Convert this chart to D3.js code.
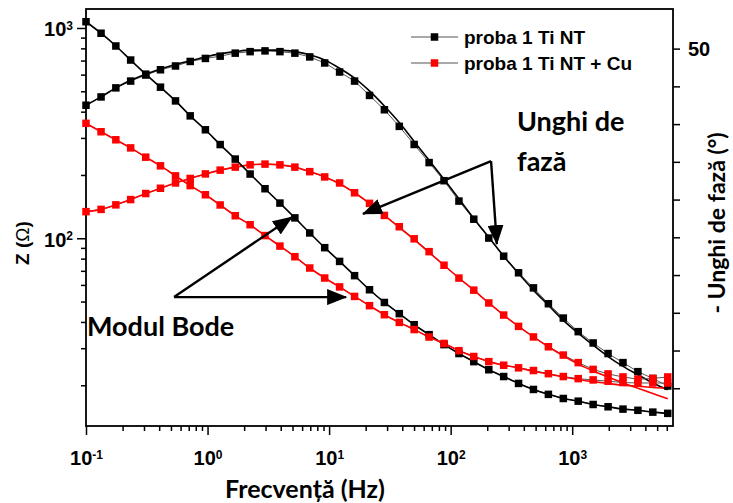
<!DOCTYPE html>
<html>
<head>
<meta charset="utf-8">
<script src="https://cdn.jsdelivr.net/npm/d3@7"></script>
<style>
body { margin: 0; background: #fff; }
svg { display: block; }
</style>
</head>
<body>
<svg id="svg" width="733" height="503"></svg>
<script>
// frequency points (Hz)
const freq = [0.1, 0.133, 0.176, 0.233, 0.31, 0.41, 0.545, 0.72, 0.96, 1.27, 1.69, 2.24, 2.97, 3.94, 5.23, 6.93, 9.2, 12.2, 16.2, 21.5, 28.5, 37.8, 50.1, 66.5, 88.2, 117, 155, 206, 273, 362, 480, 637, 845, 1121, 1487, 1973, 2617, 3472, 4606, 6110];

// |Z| (ohm)
const zTi = [1071, 944, 821, 704, 603, 523, 450, 382, 328, 279, 238, 202, 172, 147, 125, 106, 90.2, 77.6, 66.4, 56.9, 49.5, 43.8, 38.8, 34.8, 31.2, 28.3, 25.9, 23.7, 22.0, 20.4, 19.1, 18.1, 17.3, 16.8, 16.2, 15.8, 15.4, 15.2, 14.9, 14.7];
const zTiCu = [352, 321, 294, 269, 243, 221, 198, 178, 161, 144, 128, 116, 103, 91.8, 81.7, 72.2, 64.7, 58.7, 52.9, 47.8, 43.3, 39.8, 36.8, 33.9, 31.6, 29.2, 27.4, 25.9, 24.9, 24.2, 23.5, 22.7, 22.0, 21.5, 21.2, 20.9, 20.6, 20.5, 20.5, 20.5];

// - phase angle (deg)
const phTi = [42.5, 43.6, 44.8, 45.7, 46.5, 47.2, 47.7, 48.3, 48.7, 49.0, 49.4, 49.6, 49.7, 49.6, 49.4, 48.9, 48.1, 46.9, 45.7, 43.8, 41.9, 39.7, 37.3, 34.9, 32.5, 29.8, 27.4, 24.9, 22.5, 20.3, 18.3, 16.2, 14.3, 12.5, 11.0, 9.6, 8.4, 7.2, 6.3, 5.3];
const phTiCu = [28.4, 28.7, 29.3, 30.0, 30.8, 31.5, 32.2, 32.8, 33.4, 33.9, 34.3, 34.6, 34.7, 34.6, 34.3, 33.7, 33.0, 32.2, 30.9, 29.5, 27.9, 26.4, 24.8, 23.1, 21.3, 19.6, 18.0, 16.3, 14.7, 13.2, 11.8, 10.5, 9.4, 8.4, 7.5, 6.9, 6.5, 6.2, 6.3, 6.5];

// fitted curves
const fitZTi = [1071, 944, 821, 704, 603, 523, 450, 382, 328, 279, 238, 202, 172, 147, 125, 106, 90.2, 77.6, 66.4, 56.9, 49.5, 43.8, 38.8, 34.8, 31.2, 28.3, 25.9, 23.7, 22.0, 20.4, 19.1, 18.1, 17.3, 16.8, 16.2, 15.8, 15.4, 15.2, 14.9, 14.7];
const fitZTiCu = [352, 321, 294, 269, 243, 221, 198, 178, 161, 144, 128, 116, 103, 91.8, 81.7, 72.2, 64.7, 58.7, 52.9, 47.8, 43.3, 39.8, 36.8, 33.9, 31.6, 29.2, 27.4, 25.9, 24.9, 24.2, 23.3, 22.6, 21.9, 21.3, 20.8, 20.4, 20.0, 19.8, 19.5, 19.4];
const fitPhTi = [42.5, 43.6, 44.8, 45.8, 46.6, 47.3, 47.9, 48.4, 48.9, 49.3, 49.6, 49.8, 49.8, 49.8, 49.6, 49.2, 48.5, 47.4, 46.1, 44.4, 42.4, 40.2, 37.7, 35.2, 32.7, 30.1, 27.5, 25.0, 22.5, 20.2, 18.0, 16.0, 14.0, 12.3, 10.7, 9.2, 7.9, 6.8, 5.7, 4.8];
const fitPhTiCu = [28.4, 28.7, 29.3, 30.0, 30.8, 31.5, 32.2, 32.8, 33.4, 33.9, 34.3, 34.6, 34.7, 34.6, 34.3, 33.7, 33.0, 32.1, 30.9, 29.5, 27.9, 26.3, 24.7, 23.0, 21.3, 19.6, 18.0, 16.3, 14.7, 13.2, 11.8, 10.5, 9.3, 8.2, 7.3, 6.5, 5.7, 5.0, 4.3, 3.6];

const xTicks = [0.1, 1, 10, 100, 1000];
const xTickLabels = ["-1", "0", "1", "2", "3"];
const zTicks = [100, 1000];
const zTickLabels = ["2", "3"];
const phTicks = [5, 10, 15, 20, 25, 30, 35, 40, 45, 50];
const phTickLabels = { 50: "50" };
const legendNames = ["proba 1 Ti NT", "proba 1 Ti NT + Cu"];

const svg = d3.select("#svg");
const L = 86, R = 673, T = 9, B = 426;

const x = d3.scaleLog().domain([0.1, 6750]).range([L, R]);
const yZ = d3.scaleLog().domain([12.8, 1231]).range([B, T]);
const yP = d3.scaleLinear().domain([0, 55.25]).range([B, T]);

const NUM_FONT = "'Liberation Sans', Arial, sans-serif";
const TITLE_FONT = "Lato, 'Open Sans', sans-serif";

function minorTicks(lo, hi) {
	const out = [];
	for (let p = lo; p <= hi; p *= 10) {
		for (let k = 2; k <= 9; k++) out.push(p * k);
	}
	return out;
}

function supLabel(sel, labels) {
	sel.selectAll(".tick text").each(function (d, i) {
		const t = d3.select(this);
		t.text("");
		t.append("tspan").text("10");
		t.append("tspan").attr("dy", "-0.55em").attr("font-size", 12).text(labels[i]);
	});
}

// bottom axis
const gx = svg.append("g").attr("transform", `translate(0,${B})`);
gx.append("g")
	.call(d3.axisBottom(x).tickValues(minorTicks(0.1, 1000).filter((v) => v < 6750)).tickSize(5).tickFormat(() => ""))
	.call((g) => g.select(".domain").remove());
const gxMajor = gx.append("g")
	.call(d3.axisBottom(x).tickValues(xTicks).tickSize(9).tickPadding(16))
	.call((g) => g.select(".domain").remove());
gxMajor.selectAll(".tick text").attr("font-family", NUM_FONT).attr("font-weight", "bold").attr("font-size", 20).attr("fill", "#000");
supLabel(gxMajor, xTickLabels);

// left axis
const gy = svg.append("g").attr("transform", `translate(${L},0)`);
gy.append("g")
	.call(d3.axisLeft(yZ).tickValues(minorTicks(10, 100).filter((v) => v > 12.8 && v < 1231)).tickSize(5).tickFormat(() => ""))
	.call((g) => g.select(".domain").remove());
const gyMajor = gy.append("g")
	.call(d3.axisLeft(yZ).tickValues(zTicks).tickSize(9).tickPadding(4))
	.call((g) => g.select(".domain").remove());
gyMajor.selectAll(".tick text").attr("font-family", NUM_FONT).attr("font-weight", "bold").attr("font-size", 20).attr("fill", "#000").attr("dy", "0.4em");
supLabel(gyMajor, zTickLabels);

// right axis
const gr = svg.append("g").attr("transform", `translate(${R},0)`)
	.call(d3.axisRight(yP).tickValues(phTicks).tickSize(7).tickPadding(8).tickFormat((d) => phTickLabels[d] || ""))
	.call((g) => g.select(".domain").remove());
gr.selectAll(".tick text").attr("font-family", NUM_FONT).attr("font-weight", "bold").attr("font-size", 20).attr("fill", "#000");

svg.selectAll(".tick line").attr("stroke", "#000").attr("stroke-width", 1.5);

// frame
svg.append("rect")
	.attr("x", L).attr("y", T).attr("width", R - L).attr("height", B - T)
	.attr("fill", "none").attr("stroke", "#000").attr("stroke-width", 1.8);

// axis titles
const zTitle = svg.append("text")
	.attr("transform", `translate(29,243) rotate(-90)`)
	.attr("text-anchor", "middle")
	.attr("font-family", NUM_FONT).attr("font-weight", "bold").attr("font-size", 19);
zTitle.append("tspan").text("Z (");
zTitle.append("tspan").attr("font-weight", "normal").text("Ω");
zTitle.append("tspan").text(")");

svg.append("text")
	.attr("x", 305).attr("y", 498)
	.attr("text-anchor", "middle")
	.attr("font-family", TITLE_FONT).attr("font-weight", "bold").attr("font-size", 25)
	.text("Frecvență (Hz)");

svg.append("text")
	.attr("transform", `translate(725,223) rotate(-90)`)
	.attr("text-anchor", "middle")
	.attr("font-family", TITLE_FONT).attr("font-weight", "bold").attr("font-size", 23)
	.text("- Unghi de fază (°)");

// series
const series = [
	{ key: "phTi", vals: phTi, fit: fitPhTi, y: yP, color: "#000" },
	{ key: "phTiCu", vals: phTiCu, fit: fitPhTiCu, y: yP, color: "#ff0000" },
	{ key: "zTi", vals: zTi, fit: fitZTi, y: yZ, color: "#000" },
	{ key: "zTiCu", vals: zTiCu, fit: fitZTiCu, y: yZ, color: "#ff0000" },
];

const plot = svg.append("g");
for (const s of series) {
	const line = d3.line().x((d, i) => x(freq[i])).y((d) => s.y(d));
	plot.append("path")
		.attr("class", `data-${s.key}`)
		.attr("d", line(s.vals))
		.attr("fill", "none").attr("stroke", "#555").attr("stroke-width", 1);
	plot.append("path")
		.attr("class", `fit-${s.key}`)
		.attr("d", line.curve(d3.curveMonotoneX)(s.fit))
		.attr("fill", "none").attr("stroke", s.color).attr("stroke-width", 1.6);
}
const MS = 7.5;
for (const s of series) {
	plot.selectAll(`.m-${s.key}`)
		.data(s.vals)
		.join("rect")
		.attr("class", `m-${s.key}`)
		.attr("x", (d, i) => x(freq[i]) - MS / 2)
		.attr("y", (d) => s.y(d) - MS / 2)
		.attr("width", MS).attr("height", MS)
		.attr("fill", s.color);
}

// legend
const lg = svg.append("g").attr("transform", "translate(411,37)");
[["#000", 0], ["#ff0000", 26]].forEach(([c, dy], i) => {
	const row = lg.append("g").attr("transform", `translate(0,${dy})`);
	row.append("line").attr("x1", 0).attr("x2", 47).attr("stroke", "#555").attr("stroke-width", 1.2);
	row.append("rect").attr("x", 23.5 - MS / 2).attr("y", -MS / 2).attr("width", MS).attr("height", MS).attr("fill", c);
	row.append("text").attr("x", 53).attr("y", 7)
		.attr("font-family", NUM_FONT).attr("font-weight", "bold").attr("font-size", 19)
		.text(legendNames[i]);
});

// annotations
const defs = svg.append("defs");
defs.append("marker")
	.attr("id", "head")
	.attr("viewBox", "0 0 20 16")
	.attr("refX", 19).attr("refY", 8)
	.attr("markerWidth", 20).attr("markerHeight", 16)
	.attr("markerUnits", "userSpaceOnUse")
	.attr("orient", "auto")
	.append("path").attr("d", "M0,0 L20,8 L0,16 Z").attr("fill", "#000");

function arrow(p0, p1, ys) {
	svg.append("line")
		.attr("x1", x(p0[0])).attr("y1", ys(p0[1]))
		.attr("x2", x(p1[0])).attr("y2", ys(p1[1]))
		.attr("stroke", "#000").attr("stroke-width", 2.4)
		.attr("marker-end", "url(#head)");
}
// phase arrows (freq, deg)
arrow([215, 35.1], [19, 28.1], yP);
arrow([215, 35.1], [240, 24.1], yP);
// modulus arrows (freq, ohm)
arrow([0.53, 52.5], [4.95, 126], yZ);
arrow([0.53, 52.5], [13.8, 52.5], yZ);

const ann = [
	["Unghi de", 517, 131],
	["fază", 517, 171],
	["Modul Bode", 87, 336],
];
svg.selectAll(".ann").data(ann).join("text")
	.attr("class", "ann")
	.attr("x", (d) => d[1]).attr("y", (d) => d[2])
	.attr("font-family", TITLE_FONT).attr("font-weight", "bold").attr("font-size", 27)
	.text((d) => d[0]);
</script>
</body>
</html>
